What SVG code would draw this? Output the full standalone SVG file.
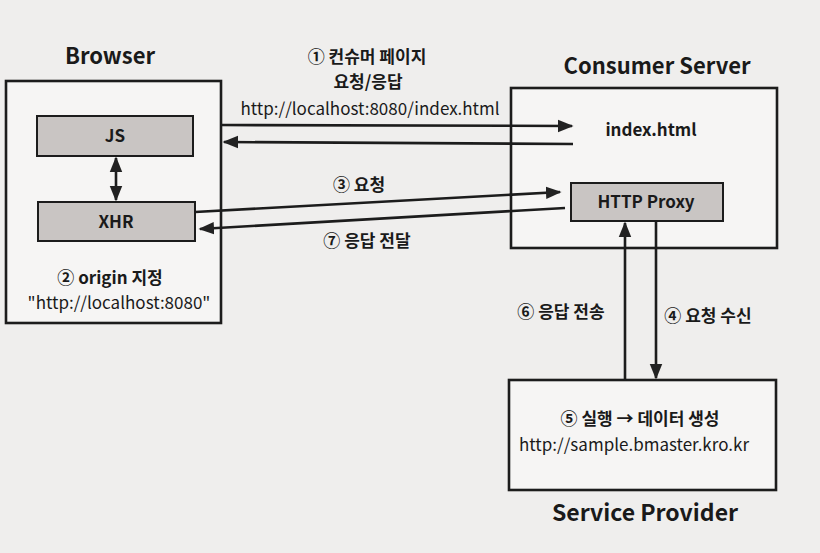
<svg xmlns="http://www.w3.org/2000/svg" width="820" height="553" viewBox="0 0 820 553">
<defs>
<marker id="ah" viewBox="0 0 10 10" refX="9" refY="5" markerWidth="6" markerHeight="6" orient="auto-start-reverse" markerUnits="strokeWidth">
<path d="M0,1 L10,5 L0,9 z" fill="#222"/>
</marker>
<style>
.box{fill:#f6f5f4;stroke:#1c1c1c;stroke-width:2.6}
.gbox{fill:#c9c5c3;stroke:#1c1c1c;stroke-width:2}
.t{font-family:"Noto Sans CJK KR","Noto Sans",sans-serif;fill:#1a1a1a;text-anchor:middle}
.title{font-size:22px;font-weight:700}
.lbl{font-size:17px;font-weight:700}
.url{font-size:17px;font-weight:400}
.ln{stroke:#1c1c1c;stroke-width:2.6;fill:none}
</style>
</defs>
<rect width="820" height="553" fill="#efeeed"/>
<g id="browser">
<text class="t title" x="110" y="64">Browser</text>
<rect class="box" x="6" y="81" width="215" height="242"/>
<text class="t lbl" x="110" y="284">② origin 지정</text>
<text class="t url" x="119" y="309">"http://localhost:8080"</text>
</g>
<g id="js">
<rect class="gbox" x="37" y="116" width="156" height="40"/>
<text class="t lbl" x="115" y="142">JS</text>
</g>
<g id="xhr">
<rect class="gbox" x="38" y="202" width="157" height="39"/>
<text class="t lbl" x="116" y="228">XHR</text>
</g>
<g id="consumer-server">
<text class="t title" x="657" y="74">Consumer Server</text>
<rect class="box" x="511" y="88" width="266" height="160"/>
<text class="t lbl" x="651" y="136">index.html</text>
</g>
<g id="http-proxy">
<rect class="gbox" x="571" y="183" width="152" height="38"/>
<text class="t lbl" x="646" y="208">HTTP Proxy</text>
</g>
<g id="service-provider">
<rect class="box" x="509" y="380" width="267" height="110"/>
<text class="t lbl" x="640" y="425">⑤ 실행 → 데이터 생성</text>
<text class="t url" x="634" y="451">http://sample.bmaster.kro.kr</text>
<text class="t title" x="645" y="521" style="font-size:23px">Service Provider</text>
</g>
<g id="connectors">
<line class="ln" x1="116" y1="158" x2="116" y2="200" marker-start="url(#ah)" marker-end="url(#ah)"/>
<line class="ln" x1="221" y1="125" x2="572" y2="126" marker-end="url(#ah)"/>
<line class="ln" x1="573" y1="144" x2="224" y2="142" marker-end="url(#ah)"/>
<line class="ln" x1="195" y1="212" x2="560" y2="192" marker-end="url(#ah)"/>
<line class="ln" x1="565" y1="208" x2="200" y2="229" marker-end="url(#ah)"/>
<line class="ln" x1="625" y1="381" x2="625" y2="223" marker-end="url(#ah)"/>
<line class="ln" x1="656" y1="221" x2="656" y2="378" marker-end="url(#ah)"/>
<text class="t lbl" x="367" y="63">① 컨슈머 페이지</text>
<text class="t lbl" x="368" y="88">요청/응답</text>
<text class="t url" x="370" y="115">http://localhost:8080/index.html</text>
<text class="t lbl" x="359" y="191">③ 요청</text>
<text class="t lbl" x="367" y="247">⑦ 응답 전달</text>
<text class="t lbl" x="561" y="318">⑥ 응답 전송</text>
<text class="t lbl" x="708" y="322">④ 요청 수신</text>
</g>
</svg>
